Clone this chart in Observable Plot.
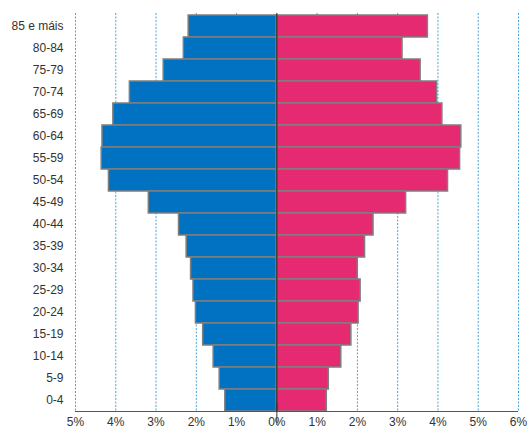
<!DOCTYPE html>
<html>
<head>
<meta charset="utf-8">
<script src="https://cdn.jsdelivr.net/npm/d3@7"></script>
<script src="https://cdn.jsdelivr.net/npm/@observablehq/plot@0.6"></script>
<style>
  html, body { margin: 0; padding: 0; background: #fff; }
  #chart { font-family: "Liberation Sans", Arial, sans-serif; }
</style>
</head>
<body>
<div id="chart"></div>
<script>
const ages = ["85 e máis","80-84","75-79","70-74","65-69","60-64","55-59","50-54","45-49","40-44","35-39","30-34","25-29","20-24","15-19","10-14","5-9","0-4"];
const male = [2.19,2.31,2.81,3.65,4.06,4.33,4.35,4.17,3.18,2.43,2.24,2.13,2.07,2.01,1.83,1.57,1.42,1.28];
const female = [3.75,3.12,3.57,3.98,4.11,4.58,4.55,4.25,3.21,2.40,2.19,2.01,2.08,2.03,1.85,1.60,1.29,1.24];
const xTicks = [-5,-4,-3,-2,-1,0,1,2,3,4,5,6];

const rows = ages.map((a, i) => ({age: a, male: male[i], female: female[i]}));

const chart = Plot.plot({
  width: 528,
  height: 432,
  marginLeft: 75,
  marginRight: 10,
  marginTop: 13,
  marginBottom: 20,
  style: {fontFamily: "Liberation Sans, Arial, sans-serif", fontSize: "12px", color: "#333"},
  x: {domain: [-5, 6], ticks: xTicks, tickFormat: d => Math.abs(d) + "%", tickSize: 0, tickPadding: 5, label: null},
  y: {domain: ages, padding: 0, tickSize: 0, tickPadding: 12, label: null},
  marks: [
    Plot.ruleX(xTicks.filter(d => d !== 0), {stroke: "#4aa3dc", strokeDasharray: "2,1.5", strokeWidth: 1}),
    Plot.barX(rows, {y: "age", x1: 0, x2: d => -d.male, fill: "#0072c1", stroke: "#7f7f7f", strokeWidth: 1.5, inset: 0}),
    Plot.barX(rows, {y: "age", x1: 0, x2: "female", fill: "#e62a72", stroke: "#7f7f7f", strokeWidth: 1.5, inset: 0}),
    Plot.ruleX([0], {stroke: "#222", strokeWidth: 1}),
    Plot.ruleY([0], {y: () => ages[ages.length - 1], dy: 11, stroke: "#555", strokeWidth: 1}),
    Plot.tickX([0], {y: () => ages[ages.length - 1], dy: 14, stroke: "#333"})
  ]
});
document.getElementById("chart").appendChild(chart);
</script>
</body>
</html>
